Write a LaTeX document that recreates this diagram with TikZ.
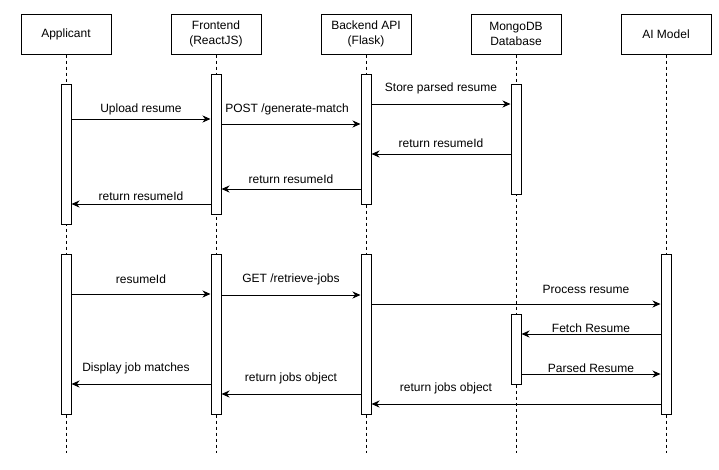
\documentclass[tikz,border=0pt]{standalone}
\usepackage{fontspec}
\setmainfont{Liberation Sans}
\usetikzlibrary{arrows.meta}

\begin{document}
\begin{tikzpicture}[x=1pt,y=-1pt,font=\fontsize{12}{15}\selectfont]
		\tikzstyle{Actor} = [shape=rectangle, draw, line width=1pt, minimum width=90pt, minimum height=40pt, align=center, inner sep=0pt]
		\tikzstyle{Bar}   = [shape=rectangle, draw, fill=white, line width=1pt, minimum width=10pt, inner sep=0pt, anchor=north]
		\tikzstyle{Life}  = [dash pattern=on 3pt off 3pt, line width=0.8pt]
		\tikzstyle{Msg}   = [-{Stealth[length=8pt,width=7pt,inset=2.5pt]}, line width=1pt]
		\tikzstyle{Lbl}   = [inner sep=0pt]

		\useasboundingbox (0,0) rectangle (719,469);

		% participants
		\node[Actor] (App) at (66,34)  {Applicant};
		\node[Actor] (FE)  at (216,34) {Frontend\\(ReactJS)};
		\node[Actor] (BE)  at (366,34) {Backend API\\(Flask)};
		\node[Actor] (DB)  at (516,34) {MongoDB\\Database};
		\node[Actor] (AI)  at (666,34) {AI Model};
		\draw[Life] (App.south) -- (App.south |- 0,453);
		\draw[Life] (FE.south) -- (FE.south |- 0,453);
		\draw[Life] (BE.south) -- (BE.south |- 0,453);
		\draw[Life] (DB.south) -- (DB.south |- 0,453);
		\draw[Life] (AI.south) -- (AI.south |- 0,453);

		% activations
		\node[Bar, minimum height=140pt] (AppA) at (66,84)  {};
		\node[Bar, minimum height=140pt] (FEA)  at (216,74) {};
		\node[Bar, minimum height=130pt] (BEA)  at (366,74) {};
		\node[Bar, minimum height=110pt] (DBA)  at (516,84) {};
		\node[Bar, minimum height=160pt] (AppB) at (66,254)  {};
		\node[Bar, minimum height=160pt] (FEB)  at (216,254) {};
		\node[Bar, minimum height=160pt] (BEB)  at (366,254) {};
		\node[Bar, minimum height=70pt]  (DBB)  at (516,314) {};
		\node[Bar, minimum height=160pt] (AIB)  at (666,254) {};

		% upload
		\draw[Msg] (AppA.east |- 0,119) -- (FEA.west |- 0,119);
		\node[Lbl] (UploadLbl) at (141,109) {Upload resume};
		\draw[Msg] (FEA.east |- 0,124) -- (BEA.west |- 0,124);
		\node[Lbl] (PostLbl) at (287,109) {POST /generate-match};
		\draw[Msg] (BEA.east |- 0,104) -- (DBA.west |- 0,104);
		\node[Lbl] (StoreLbl) at (441,88) {Store parsed resume};
		\draw[Msg] (DBA.west |- 0,154) -- (BEA.east |- 0,154);
		\node[Lbl] (RetDBLbl) at (441,143) {return resumeId};
		\draw[Msg] (BEA.west |- 0,189) -- (FEA.east |- 0,189);
		\node[Lbl] (RetBELbl) at (291,179) {return resumeId};
		\draw[Msg] (FEA.west |- 0,204) -- (AppA.east |- 0,204);
		\node[Lbl] (RetFELbl) at (141,196) {return resumeId};

		% matching
		\draw[Msg] (AppB.east |- 0,294) -- (FEB.west |- 0,294);
		\node[Lbl] (IdLbl) at (141,279) {resumeId};
		\draw[Msg] (FEB.east |- 0,295) -- (BEB.west |- 0,295);
		\node[Lbl] (GetLbl) at (291,279) {GET /retrieve-jobs};
		\draw[Msg] (BEB.east |- 0,304) -- (AIB.west |- 0,304);
		\node[Lbl] (ProcLbl) at (586,289) {Process resume};
		\draw[Msg] (AIB.west |- 0,334) -- (DBB.east |- 0,334);
		\node[Lbl] (FetchLbl) at (591,328) {Fetch Resume};
		\draw[Msg] (DBB.east |- 0,374) -- (AIB.west |- 0,374);
		\node[Lbl] (ParsedLbl) at (591,368) {Parsed Resume};
		\draw[Msg] (AIB.west |- 0,404) -- (BEB.east |- 0,404);
		\node[Lbl] (JobsAILbl) at (446,388) {return jobs object};
		\draw[Msg] (BEB.west |- 0,394) -- (FEB.east |- 0,394);
		\node[Lbl] (JobsBELbl) at (291,378) {return jobs object};
		\draw[Msg] (FEB.west |- 0,384) -- (AppB.east |- 0,384);
		\node[Lbl] (ShowLbl) at (136,368) {Display job matches};
	\end{tikzpicture}
\end{document}
